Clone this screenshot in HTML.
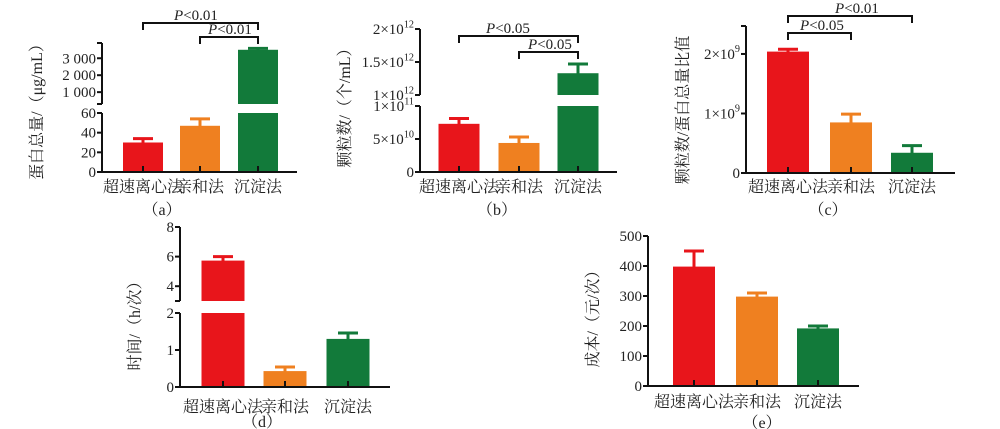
<!DOCTYPE html>
<html><head><meta charset="utf-8"><style>
html,body{margin:0;padding:0;background:#fff;}
svg{display:block;}
text{font-family:"Liberation Serif","Noto Serif CJK SC",serif;fill:#222;}
.cjk{font-family:"Liberation Serif","Noto Serif CJK SC","Noto Sans CJK SC",serif;}
</style></head><body>
<svg id="chart" width="1000" height="429" viewBox="0 0 1000 429" xmlns="http://www.w3.org/2000/svg"></svg>
<script>
const categories = ["超速离心法","亲和法","沉淀法"];
const colors = ["#e8151b","#ef8020","#127a3a"];
// panel a: protein total
const valuesA = [30, 47, 3500];
const errorsA = [34, 54, 3580];
const ticksA = [0,20,40,60,1000,2000,3000];
const tickLabelsA = ["0","20","40","60","1 000","2 000","3 000"];
// panel b: particle number
const valuesB = [7.3e10, 4.4e10, 1.33e12];
const errorsB = [8.1e10, 5.3e10, 1.47e12];
const ticksB = [0,5e10,1e11,1e12,1.5e12,2e12];
const tickLabelsB = ["0","5×10^10","1×10^11","1×10^12","1.5×10^12","2×10^12"];
// panel c: ratio
const valuesC = [2.04e9, 0.85e9, 0.34e9];
const errorsC = [2.08e9, 0.99e9, 0.46e9];
const ticksC = [0,1e9,2e9];
const tickLabelsC = ["0","1×10^9","2×10^9"];
// panel d: time
const valuesD = [5.73, 0.43, 1.3];
const errorsD = [6.0, 0.54, 1.46];
const ticksD = [0,1,2,4,6,8];
const tickLabelsD = ["0","1","2","4","6","8"];
// panel e: cost
const valuesE = [398, 298, 192];
const errorsE = [450, 310, 200];
const ticksE = [0,100,200,300,400,500];
const tickLabelsE = ["0","100","200","300","400","500"];

const svg = document.getElementById('chart');
const NS = "http://www.w3.org/2000/svg";
function mk(tag, attrs, parent){
  const e = document.createElementNS(NS, tag);
  for (const k in attrs) e.setAttribute(k, attrs[k]);
  (parent||svg).appendChild(e);
  return e;
}
function labelText(parent, str, x, y, anchor, size){
  const t = mk('text', {x:x, y:y, 'text-anchor':anchor, 'font-size':size}, parent);
  const parts = str.split('^');
  t.appendChild(document.createTextNode(parts[0]));
  if (parts[1]){
    const s = mk('tspan', {'font-size': size*0.68, dy: -size*0.45}, t);
    s.textContent = parts[1];
  }
  return t;
}
function panel(cfg){
  const g = mk('g', {});
  
  
  const segs = cfg.segs;
  function segOf(v){ for (const s of segs){ if (v>=s.dom[0]-1e-9 && v<=s.dom[1]+1e-9) return s; } return v<segs[0].dom[0]?segs[0]:segs[segs.length-1]; }
  function y(v, s){ s = s||segOf(v); return s.px[0] + (v - s.dom[0])/(s.dom[1]-s.dom[0])*(s.px[1]-s.px[0]); }
  // bars
  cfg.values.forEach((v,i)=>{
    const cx = cfg.centers[i];
    segs.forEach((s, si)=>{
      const lo = si===0 ? 0 : s.dom[0];
      if (v <= s.dom[0] && si>0) return;
      const hi = Math.min(v, s.dom[1]);
      const y0 = y(Math.max(lo, s.dom[0]), s), y1 = y(hi, s);
      const r = mk('rect', {x:cx-cfg.bw/2, y:y1, width:cfg.bw, height:Math.max(0,y0-y1), fill:colors[i]}, g);
      
      
    });
    const e = cfg.errors[i];
    const s = segOf(e);
    const yt = y(Math.max(v, s.dom[0]), s), ye = y(e, s);
    const el = mk('path', {d:`M${cx},${yt+1}V${ye}M${cx-10},${ye}H${cx+10}`, stroke:colors[i], 'stroke-width':3, fill:'none'}, g);
    
    
    mk('line', {x1:cx, x2:cx, y1:cfg.bottom, y2:cfg.bottom-6, stroke:'#111', 'stroke-width':2}, g);
  });
  // axes
  const ax = mk('g', {}, g);
  
  
  segs.forEach(s=>{
    mk('line', {x1:cfg.ax, x2:cfg.ax, y1:s.px[0]+ (s===segs[0]?1:0), y2:s.px[1], stroke:'#111', 'stroke-width':2}, ax);
    mk('line', {x1:cfg.ax-5, x2:cfg.ax, y1:s.px[1], y2:s.px[1], stroke:'#111', 'stroke-width':2}, ax);
    if (s!==segs[0]) mk('line', {x1:cfg.ax-5, x2:cfg.ax, y1:s.px[0], y2:s.px[0], stroke:'#111', 'stroke-width':2}, ax);
  });
  cfg.ticks.forEach((t,i)=>{
    const yy = y(t);
    mk('line', {x1:cfg.ax-5, x2:cfg.ax, y1:yy, y2:yy, stroke:'#111', 'stroke-width':2}, ax);
    labelText(ax, cfg.tickLabels[i], cfg.ax-6, yy+5, 'end', 15);
  });
  const xa = mk('line', {x1:cfg.ax-1, x2:cfg.xend, y1:cfg.bottom, y2:cfg.bottom, stroke:'#111', 'stroke-width':2}, g);
  
  
  categories.forEach((c,i)=>{
    const t = mk('text', {x:cfg.centers[i], y:cfg.catY, 'text-anchor':'middle', 'font-size':16, class:'cjk'}, g);
    t.textContent = c;
    
    
  });
  const yl = mk('text', {x:0, y:0, 'text-anchor':'middle', 'font-size':16, class:'cjk', transform:`translate(${cfg.yl[0]},${cfg.yl[1]}) rotate(-90)`}, g);
  yl.textContent = cfg.ylabel;
  
  
  const cap = mk('text', {x:cfg.cap[0], y:cfg.cap[1], 'text-anchor':'middle', 'font-size':16, class:'cjk'}, g);
  cap.textContent = '（' + cfg.id + '）';
  
  
  (cfg.sig||[]).forEach((b,k)=>{
    const x1 = cfg.centers[b.a], x2 = cfg.centers[b.b];
    const p = mk('path', {d:`M${x1},${b.y+7}V${b.y}H${x2}V${b.y+7}`, stroke:'#111', 'stroke-width':2, fill:'none'}, g);
    
    
    const t = mk('text', {x:b.tx, y:b.y-3, 'text-anchor':'middle', 'font-size':15}, g);
    const it = mk('tspan', {'font-style':'italic'}, t); it.textContent = 'P';
    const r = mk('tspan', {}, t); r.textContent = '<' + b.p;
    
    
  });
}
panel({id:'a', values:valuesA, errors:errorsA, ticks:ticksA, tickLabels:tickLabelsA,
  segs:[{dom:[0,60],px:[172,113]},{dom:[300,3900],px:[104,43]}],
  ax:102, xend:297, bottom:172, centers:[143,200,258], bw:40, catY:192, cap:[162,215],
  ylabel:'蛋白总量/（μg/mL）', yl:[42,108],
  sig:[{a:0,b:2,y:23,p:'0.01',tx:196},{a:1,b:2,y:37,p:'0.01',tx:230}]});
// adjust: second bracket starts at 205
panel({id:'b', values:valuesB, errors:errorsB, ticks:ticksB, tickLabels:tickLabelsB,
  segs:[{dom:[0,1e11],px:[172,106]},{dom:[1e12,2e12],px:[95,29]}],
  ax:420, xend:617, bottom:172, centers:[459,519,578], bw:41, catY:192, cap:[497,215],
  ylabel:'颗粒数/（个/mL）', yl:[350,104],
  sig:[{a:0,b:2,y:36,p:'0.05',tx:508},{a:1,b:2,y:52,p:'0.05',tx:550}]});
panel({id:'c', values:valuesC, errors:valuesC.map((v,i)=>errorsC[i]), ticks:ticksC, tickLabels:tickLabelsC,
  segs:[{dom:[0,2.47e9],px:[173,26]}],
  ax:746, xend:955, bottom:173, centers:[788,851,912], bw:42, catY:192, cap:[828,215],
  ylabel:'颗粒数/蛋白总量比值', yl:[688,110],
  sig:[{a:0,b:2,y:16,p:'0.01',tx:857},{a:0,b:1,y:33,p:'0.05',tx:822}]});
panel({id:'d', values:valuesD, errors:errorsD, ticks:ticksD, tickLabels:tickLabelsD,
  segs:[{dom:[0,2],px:[387,313]},{dom:[3,8],px:[301,227]}],
  ax:180, xend:390, bottom:387, centers:[223,285,348], bw:43, catY:412, cap:[262,427],
  ylabel:'时间/（h/次）', yl:[140,322]});
panel({id:'e', values:valuesE, errors:errorsE, ticks:ticksE, tickLabels:tickLabelsE,
  segs:[{dom:[0,500],px:[386,236]}],
  ax:648, xend:859, bottom:386, centers:[694,757,818], bw:42, catY:407, cap:[762,428],
  ylabel:'成本/（元/次）', yl:[598,315]});
</script>
</body></html>
